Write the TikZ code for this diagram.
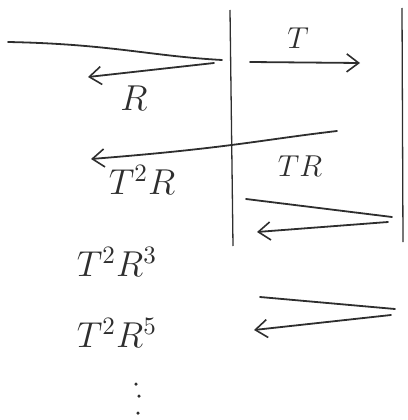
\documentclass[tikz,border=0pt]{standalone}
\usetikzlibrary{arrows.meta}
\definecolor{ink}{HTML}{2E2E2E}
\newcommand{\biglbl}[1]{\scalebox{2.5}{\Large #1}}
\newcommand{\midlbl}[1]{\scalebox{2.1}{\Large #1}}
\begin{document}
\begin{tikzpicture}[x=1pt,y=-1pt,
  wall/.style={draw=ink,line width=1.3pt},
  ray/.style={draw=ink,line width=1.8pt,line cap=round},
  arr/.style={ray,-{Straight Barb[length=12pt,width=18pt,line width=1.6pt]}},
  lbl/.style={text=ink,inner sep=0pt},
  dot/.style={fill=ink,circle,inner sep=0pt,minimum size=3.5pt}]
\useasboundingbox (0,0) rectangle (407,420);
% slab walls
\coordinate (wlt) at (230,10); \coordinate (wlb) at (233,246);
\coordinate (wrt) at (402,8);  \coordinate (wrb) at (403,242);
\draw[wall] (wlt) -- (wlb);
\draw[wall] (wrt) -- (wrb);
% incoming ray
\coordinate (in0) at (8,42); \coordinate (in1) at (222,60);
\draw[ray] (in0) .. controls (110,44) and (150,56) .. (in1);
% reflected R
\coordinate (r0) at (214,63); \coordinate (r1) at (88,77);
\draw[arr] (r0) -- (r1);
\node[lbl] (R) at (134,98) {\biglbl{$R$}};
% transmitted T
\coordinate (t0) at (250,62); \coordinate (t1) at (360,63);
\draw[arr] (t0) -- (t1);
\node[lbl] (T) at (298,38) {\midlbl{$T$}};
% TR ray going back through left wall
\coordinate (tr0) at (337,131); \coordinate (tr1) at (91,159);
\draw[arr] (tr0) .. controls (260,140) and (230,148) .. (tr1);
\node[lbl] (TR) at (300,166) {\midlbl{$TR$}};
\node[lbl] (T2R) at (142,180) {\biglbl{$T^2R$}};
% inner reflection 1
\coordinate (a0) at (246,199); \coordinate (a1) at (392,217);
\draw[ray] (a0) -- (a1);
\coordinate (b0) at (388,222); \coordinate (b1) at (257,232);
\draw[arr] (b0) -- (b1);
\node[lbl] (T2R3) at (117,262) {\biglbl{$T^2R^3$}};
% inner reflection 2
\coordinate (c0) at (260,297); \coordinate (c1) at (395,309);
\draw[ray] (c0) -- (c1);
\coordinate (d0) at (391,315); \coordinate (d1) at (254,330);
\draw[arr] (d0) -- (d1);
\node[lbl] (T2R5) at (117,333) {\biglbl{$T^2R^5$}};
% continuation dots
\node[dot] (dA) at (136,384) {};
\node[dot] (dB) at (139,396) {};
\node[dot] (dC) at (138,413) {};
\end{tikzpicture}
\end{document}
